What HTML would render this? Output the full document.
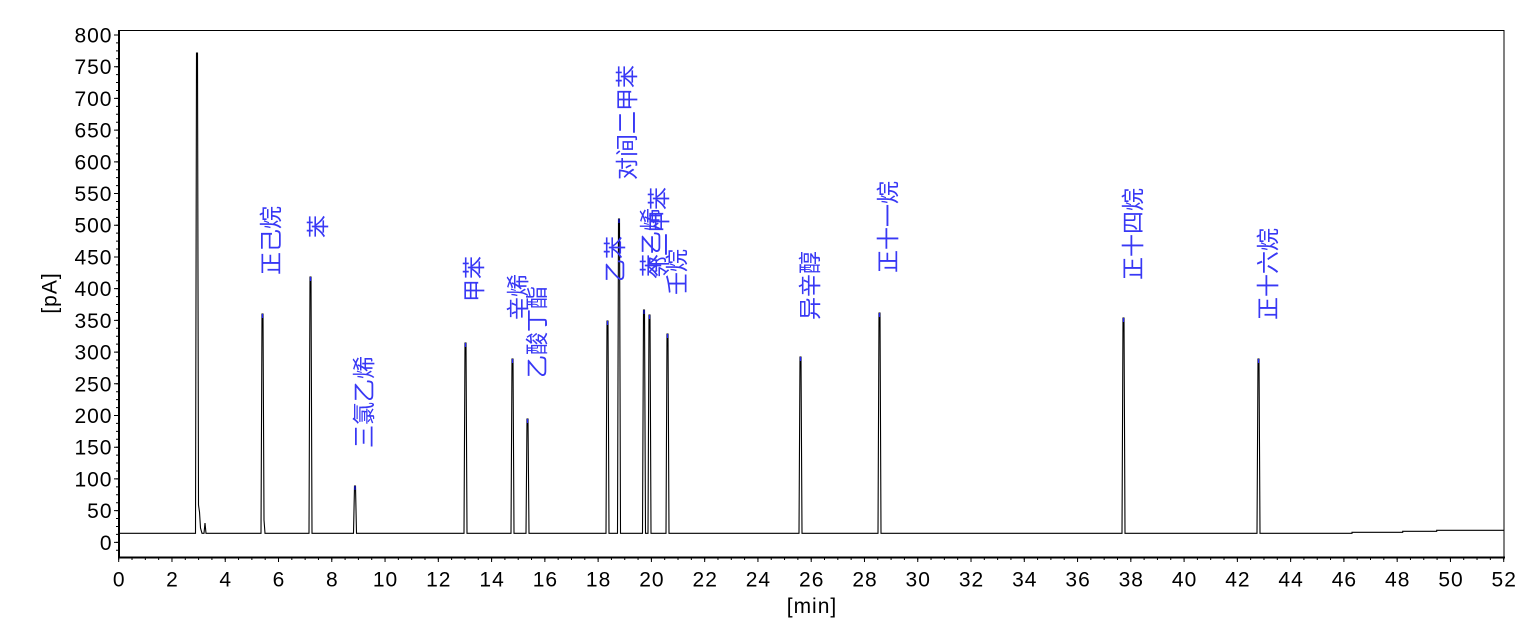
<!DOCTYPE html>
<html><head><meta charset="utf-8"><style>
html,body{margin:0;padding:0;background:#fff;}
svg{display:block;}
.t{font-family:"Liberation Sans",Arial,sans-serif;font-size:21px;fill:#000;letter-spacing:1px;}
.l{font-family:"Liberation Sans","Noto Sans CJK SC",sans-serif;font-size:23px;fill:#3838f5;}
</style></head><body>
<svg width="1538" height="640" viewBox="0 0 1538 640" xmlns="http://www.w3.org/2000/svg">
<rect width="1538" height="640" fill="#fff"/>
<!-- frame -->
<rect x="119" y="30.5" width="1385" height="527" fill="none" stroke="#000" stroke-width="1"/>
<line x1="119" y1="30" x2="119" y2="558.5" stroke="#000" stroke-width="2"/>
<line x1="118" y1="557.5" x2="1505" y2="557.5" stroke="#000" stroke-width="2"/>
<!-- y ticks -->
<line x1="116.5" y1="34.5" x2="116.5" y2="557" stroke="#000" stroke-width="5" stroke-dasharray="1 30.708"/>
<line x1="117.5" y1="34.5" x2="117.5" y2="557" stroke="#000" stroke-width="3" stroke-dasharray="1 6.927"/>
<!-- x ticks -->
<line x1="118.2" y1="559.5" x2="1505" y2="559.5" stroke="#000" stroke-width="5" stroke-dasharray="1 52.27"/>
<line x1="118.2" y1="558.5" x2="1505" y2="558.5" stroke="#000" stroke-width="3" stroke-dasharray="1 12.317"/>
<!-- y labels -->
<g class="t" text-anchor="end">
<text x="112.5" y="549.8">0</text>
<text x="112.5" y="518.1">50</text>
<text x="112.5" y="486.4">100</text>
<text x="112.5" y="454.7">150</text>
<text x="112.5" y="423">200</text>
<text x="112.5" y="391.3">250</text>
<text x="112.5" y="359.6">300</text>
<text x="112.5" y="327.9">350</text>
<text x="112.5" y="296.1">400</text>
<text x="112.5" y="264.4">450</text>
<text x="112.5" y="232.7">500</text>
<text x="112.5" y="201">550</text>
<text x="112.5" y="169.3">600</text>
<text x="112.5" y="137.6">650</text>
<text x="112.5" y="105.9">700</text>
<text x="112.5" y="74.2">750</text>
<text x="112.5" y="42.5">800</text>
</g>
<!-- x labels -->
<g class="t" text-anchor="middle">
<text x="119.2" y="586.5">0</text>
<text x="172.5" y="586.5">2</text>
<text x="225.7" y="586.5">4</text>
<text x="279" y="586.5">6</text>
<text x="332.3" y="586.5">8</text>
<text x="385.5" y="586.5">10</text>
<text x="438.8" y="586.5">12</text>
<text x="492.1" y="586.5">14</text>
<text x="545.4" y="586.5">16</text>
<text x="598.6" y="586.5">18</text>
<text x="651.9" y="586.5">20</text>
<text x="705.2" y="586.5">22</text>
<text x="758.4" y="586.5">24</text>
<text x="811.7" y="586.5">26</text>
<text x="865" y="586.5">28</text>
<text x="918.2" y="586.5">30</text>
<text x="971.5" y="586.5">32</text>
<text x="1024.8" y="586.5">34</text>
<text x="1078.1" y="586.5">36</text>
<text x="1131.3" y="586.5">38</text>
<text x="1184.6" y="586.5">40</text>
<text x="1237.9" y="586.5">42</text>
<text x="1291.1" y="586.5">44</text>
<text x="1344.4" y="586.5">46</text>
<text x="1397.7" y="586.5">48</text>
<text x="1451" y="586.5">50</text>
<text x="1504.2" y="586.5">52</text>
</g>
<!-- axis titles -->
<text class="t" x="812" y="613" text-anchor="middle">[min]</text>
<text class="t" transform="translate(56.5,293) rotate(-90)" text-anchor="middle">[pA]</text>
<!-- chromatogram -->
<path fill="none" stroke="#000" stroke-width="1.1" stroke-linejoin="miter" d="M119,533.3
L195.5,533.3 L196.5,53 L197.5,53 L198.5,505 L199.5,512 L200.5,528 L202,533.3
L204,533.3 L205,523 L206,533.3
L261,533.3 L262,314 L263,314 L264,520 L265,533.3
L309,533.3 L310,277 L311,277 L312,533.3
L353.5,533.3 L354.5,486 L355.5,486 L356.5,533.3
L464,533.3 L465,343 L466,343 L467,533.3
L511,533.3 L512,359 L513,359 L514,533.3
L526,533.3 L527,419 L528,419 L529,533.3
L606,533.3 L607,321 L608,321 L609,533.3
L617.5,533.3 L618.5,219 L619.5,219 L620.5,533.3
L642.5,533.3 L643.5,310 L644.5,310 L645.5,533.3
L648,533.3 L649,315 L650,315 L651,533.3
L666,533.3 L667,334 L668,334 L669,533.3
L799,533.3 L800,357 L801,357 L802,533.3
L878,533.3 L879,313 L880,313 L881,533.3
L1122,533.3 L1123,318 L1124,318 L1125,533.3
L1257,533.3 L1258,359 L1259,359 L1260,533.3
L1352,533.3 L1352,532.3 L1402.7,532.3 L1402.7,531.3 L1436.7,531.3 L1436.7,530.3 L1504,530.3"/>
<!-- apex markers -->
<g stroke="#2020ff" stroke-width="1.2">
<line x1="262.5" y1="314" x2="262.5" y2="318"/>
<line x1="310.5" y1="277" x2="310.5" y2="281"/>
<line x1="355" y1="486" x2="355" y2="490"/>
<line x1="465.5" y1="343" x2="465.5" y2="347"/>
<line x1="512.5" y1="359" x2="512.5" y2="363"/>
<line x1="527.5" y1="419" x2="527.5" y2="423"/>
<line x1="607.5" y1="321" x2="607.5" y2="325"/>
<line x1="619" y1="219" x2="619" y2="223"/>
<line x1="644" y1="310" x2="644" y2="314"/>
<line x1="649.5" y1="315" x2="649.5" y2="319"/>
<line x1="667.5" y1="334" x2="667.5" y2="338"/>
<line x1="800.5" y1="357" x2="800.5" y2="361"/>
<line x1="879.5" y1="313" x2="879.5" y2="317"/>
<line x1="1123.5" y1="318" x2="1123.5" y2="322"/>
<line x1="1258.5" y1="359" x2="1258.5" y2="363"/>
</g>
<!-- peak labels -->
<g class="l" dominant-baseline="central">
<text transform="translate(271,275) rotate(-90)">正己烷</text>
<text transform="translate(318,238) rotate(-90)">苯</text>
<text transform="translate(364,448) rotate(-90)">三氯乙烯</text>
<text transform="translate(474,302) rotate(-90)">甲苯</text>
<text transform="translate(518,320) rotate(-90)">辛烯</text>
<text transform="translate(537,378) rotate(-90)">乙酸丁酯</text>
<text transform="translate(615,282) rotate(-90)">乙苯</text>
<text transform="translate(627,180) rotate(-90)">对间二甲苯</text>
<text transform="translate(651,277) rotate(-90)">苯乙烯</text>
<text transform="translate(659,279) rotate(-90)">邻二甲苯</text>
<text transform="translate(677,295) rotate(-90)">壬烷</text>
<text transform="translate(810,320) rotate(-90)">异辛醇</text>
<text transform="translate(888,273) rotate(-90)">正十一烷</text>
<text transform="translate(1133,280) rotate(-90)">正十四烷</text>
<text transform="translate(1268,320) rotate(-90)">正十六烷</text>
</g>
</svg>
</body></html>
